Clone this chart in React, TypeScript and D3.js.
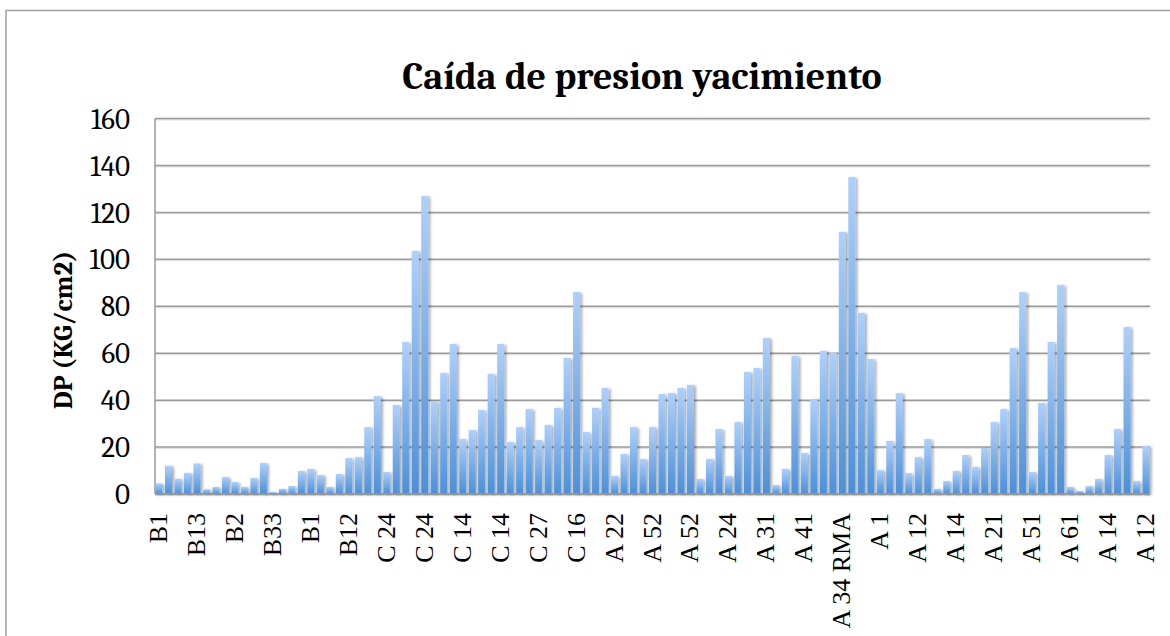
import * as d3 from "d3";
import React from "react";

// Every 4th category is labelled on the axis
const tickLabels = [
  "B1", "B13", "B2", "B33", "B1", "B12", "C 24", "C 24", "C 14", "C 14",
  "C 27", "C 16", "A 22", "A 52", "A 52", "A 24", "A 31", "A 41", "A 34 RMA",
  "A 1", "A 12", "A 14", "A 21", "A 51", "A 61", "A 14", "A 12",
];

const dpValues = [
  4.5, 12, 6.5, 9, 13, 2, 3, 7.2, 5.1, 3, 6.8, 13.2, 0.9, 2.2, 3.4, 9.8, 10.7, 8.1, 3, 8.5,
  15.3, 15.7, 28.5, 41.7, 9.4, 37.9, 64.8, 103.6, 127, 39.6, 51.6, 63.9, 23.4, 27.3, 35.8, 51.2, 63.9, 22.2, 28.5, 36.2,
  23, 29.4, 36.7, 58, 86.1, 26.4, 36.7, 45.2, 7.7, 17.1, 28.5, 14.9, 28.5, 42.6, 43, 45.2, 46.5, 6.4, 14.9, 27.7,
  7.7, 30.7, 52, 53.7, 66.5, 3.8, 10.7, 58.8, 17.5, 40.5, 61, 60.1, 111.7, 135.1, 77.2, 57.5, 10.2, 22.6, 43, 8.9,
  15.7, 23.4, 2.2, 5.5, 9.8, 16.6, 11.5, 19.6, 30.7, 36.2, 62.2, 86.1, 9.4, 38.8, 64.8, 89.1, 3, 1.3, 3.4, 6.4,
  16.6, 27.7, 71.2, 5.5, 20.5,
];

const yTicks = [0, 20, 40, 60, 80, 100, 120, 140, 160];

const W = 1170;
const H = 636;
const M = { left: 155, right: 1150, top: 118.5, bottom: 494 };
const serif = "Cambria, 'Liberation Serif', 'DejaVu Serif', serif";

export default function App() {
  const idx = d3.range(dpValues.length);
  const x = d3
    .scaleBand<number>()
    .domain(idx)
    .range([M.left, M.right])
    .paddingInner(0.26)
    .paddingOuter(0.05);
  const y = d3.scaleLinear().domain([0, 160]).range([M.bottom, M.top]);

  return (
    <svg
      width={W}
      height={H}
      style={{ position: "absolute", left: 0, top: 0, background: "#fff" }}
    >
      <defs>
        <linearGradient id="barGrad" x1="0" y1="0" x2="0" y2="1">
          <stop offset="0%" stopColor="#aed0fb" />
          <stop offset="100%" stopColor="#4b90da" />
        </linearGradient>
        <filter id="shadow" x="-50%" y="-5%" width="220%" height="115%">
          <feGaussianBlur in="SourceAlpha" stdDeviation="1.6" />
          <feOffset dx="2" dy="1" result="b" />
          <feComponentTransfer>
            <feFuncA type="linear" slope="0.35" />
          </feComponentTransfer>
          <feMerge>
            <feMergeNode />
            <feMergeNode in="SourceGraphic" />
          </feMerge>
        </filter>
      </defs>

      {/* chart area border */}
      <rect x={6} y={10.5} width={1180} height={660} fill="none" stroke="#a0a0a0" strokeWidth={1.5} />

      <text
        x={642}
        y={89}
        textAnchor="middle"
        fontFamily={serif}
        fontWeight="bold"
        fontSize={38}
        fill="#000"
      >
        Caída de presion yacimiento
      </text>

      {/* gridlines */}
      {yTicks.map((t) => (
        <g key={t}>
          <line x1={M.left} x2={M.right} y1={y(t) + 1.2} y2={y(t) + 1.2} stroke="#e2e2e2" strokeWidth={1.5} />
          <line x1={M.left} x2={M.right} y1={y(t)} y2={y(t)} stroke="#9a9a9a" strokeWidth={1.5} />
          <text
            x={130}
            y={y(t)}
            dy="0.35em"
            textAnchor="end"
            fontFamily={serif}
            fontSize={29}
            fill="#000"
          >
            {t}
          </text>
        </g>
      ))}
      <line x1={M.left} x2={M.left} y1={M.top} y2={M.bottom} stroke="#9a9a9a" strokeWidth={1.5} />

      {/* bars */}
      <g filter="url(#shadow)">
        {dpValues.map((v, i) => (
          <rect
            key={i}
            x={x(i)}
            y={y(v)}
            width={x.bandwidth()}
            height={y(0) - y(v)}
            fill="url(#barGrad)"
          />
        ))}
      </g>
      <line x1={M.left} x2={M.right} y1={M.bottom} y2={M.bottom} stroke="#9a9a9a" strokeWidth={1.5} />

      {/* category labels, every 4th bar */}
      {tickLabels.map((lab, k) => {
        const cx = (x(k * 4) ?? 0) + x.bandwidth() / 2;
        return (
          <text
            key={k}
            transform={`translate(${cx + 8},${513}) rotate(-90)`}
            textAnchor="end"
            fontFamily="'Liberation Serif', 'Times New Roman', serif"
            fontSize={26}
            fill="#000"
          >
            {lab}
          </text>
        );
      })}

      <text
        transform="translate(72,330) rotate(-90)"
        textAnchor="middle"
        fontFamily={serif}
        fontWeight="bold"
        fontSize={27}
        fill="#000"
      >
        DP (KG/cm2)
      </text>
    </svg>
  );
}
